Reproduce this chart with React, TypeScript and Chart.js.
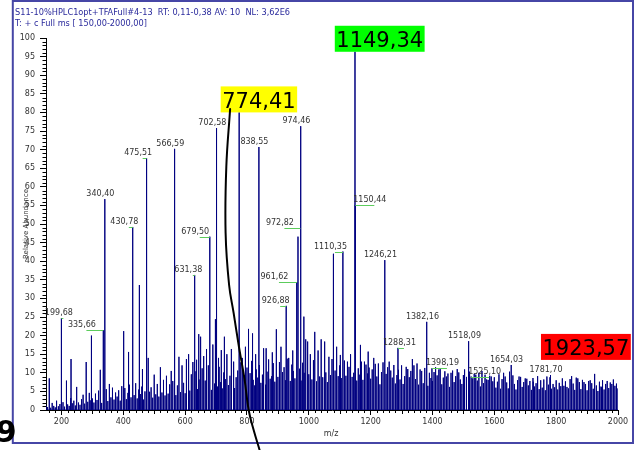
import React, { useEffect, useRef } from "react";
import { Chart, registerables } from "chart.js";

Chart.register(...registerables);

// ---------------- data ----------------
const xTickValues = [200, 400, 600, 800, 1000, 1200, 1400, 1600, 1800, 2000];
const yTickValues = [0, 5, 10, 15, 20, 25, 30, 35, 40, 45, 50, 55, 60, 65, 70, 75, 80, 85, 90, 95, 100];

const labeledMz = [199.68, 335.66, 340.4, 430.78, 475.51, 566.59, 631.38, 679.5, 702.58, 774.41, 838.55, 926.88, 961.62, 972.82, 974.46, 1110.35, 1149.34, 1150.44, 1246.21, 1288.31, 1382.16, 1398.19, 1518.09, 1525.1, 1654.03, 1781.7, 1923.57];
const labeledIntensity = [24.7, 21.5, 56.7, 49.2, 67.7, 70.2, 36.3, 46.6, 75.8, 80.0, 70.7, 28.0, 34.4, 48.9, 76.3, 42.6, 96.3, 55.1, 40.3, 16.7, 23.7, 11.2, 18.5, 9.0, 12.1, 9.4, 9.7];

const minorPeakMz = [161, 183, 217, 231, 248, 280, 297, 326, 355, 402, 417, 452, 462, 481, 500, 520, 539, 555, 580, 590, 603, 612, 625, 637, 644, 650, 660, 668, 675, 689, 698, 708, 717, 727, 735, 749, 758, 785, 795, 805, 818, 828, 852, 862, 870, 882, 895, 910, 935, 948, 965, 984, 990, 997, 1005, 1018, 1030, 1040, 1052, 1065, 1079, 1090, 1102, 1125, 1135, 1167, 1180, 1192, 1210, 1225, 1260, 1275, 1300, 1320, 1335, 1350, 1365, 1410, 1421, 1445, 1460, 1480, 1502, 1540, 1560, 1575, 1590, 1615, 1630, 1648, 1680, 1700, 1726, 1750, 1770, 1800, 1825, 1850, 1870, 1890, 1910, 1947, 1965, 1980, 1990];
const minorPeakIntensity = [8.5, 2.5, 7.9, 13.7, 6.2, 12.9, 20.0, 10.8, 7.0, 21.2, 15.6, 33.6, 11.0, 14.0, 9.5, 11.5, 9.2, 10.5, 14.3, 12.0, 13.7, 15.0, 12.9, 13.5, 20.4, 19.7, 14.5, 16.4, 12.0, 17.6, 24.4, 14.0, 16.1, 19.7, 15.0, 16.4, 13.0, 14.0, 17.0, 21.8, 20.6, 15.0, 16.6, 16.6, 13.0, 15.5, 21.7, 17.0, 14.0, 16.0, 46.6, 25.1, 19.0, 18.4, 15.0, 21.0, 16.0, 19.0, 18.4, 14.3, 42.0, 17.0, 14.8, 13.0, 15.0, 17.5, 13.0, 15.7, 14.0, 12.5, 13.0, 11.0, 12.0, 11.0, 13.7, 12.5, 10.5, 11.5, 10.9, 9.0, 10.0, 11.0, 10.9, 9.5, 10.5, 8.2, 9.0, 9.5, 10.0, 10.3, 9.0, 8.5, 7.6, 8.0, 9.0, 8.0, 6.5, 9.1, 8.5, 7.5, 8.0, 6.1, 7.8, 7.0, 6.5];

const noiseStartMz = 150;
const noiseStepMz = 5;
const noiseIntensity = [
  1.2, 0.8, 1.5, 0.6, 1.9, 1.1, 0.7, 2.4, 1.0, 1.6,
  1.3, 2.1, 0.9, 2.8, 1.5, 1.1, 3.2, 1.8, 2.5, 1.2, 3.6, 2.0, 1.4, 2.9, 4.1, 1.7, 3.3, 2.2, 4.6, 2.6,
  3.1, 2.0, 4.4, 2.7, 5.2, 3.5, 1.9, 4.8, 3.0, 5.6, 2.4, 4.1, 3.4, 6.0, 2.8, 4.7, 3.6, 5.3, 2.5, 6.4,
  3.8, 5.9, 2.9, 4.6, 6.8, 3.4, 5.1, 4.0, 7.2, 3.1, 5.5, 4.3, 6.3, 2.8, 5.0, 7.6, 3.7, 4.9, 6.1, 3.3,
  5.4, 4.2, 7.0, 3.6, 6.2, 4.7, 8.1, 3.9, 5.8, 4.4, 6.9, 3.5, 7.8, 5.1, 4.0, 6.6, 8.4, 4.8, 5.7, 7.3,
  4.5, 8.8, 6.0, 5.2, 9.6, 4.9, 7.4, 10.4, 5.6, 8.2, 6.5, 11.2, 5.0, 7.9, 9.0, 6.2, 10.8, 5.4, 8.6, 7.1,
  9.8, 6.3, 11.6, 7.5, 5.8, 10.1, 8.3, 12.4, 6.7, 9.2, 7.0, 11.0, 5.9, 8.8, 10.6, 6.9, 12.8, 7.7, 9.4, 8.0,
  11.4, 7.2, 9.9, 13.2, 8.1, 6.6, 10.9, 8.7, 12.1, 7.3, 9.5, 11.8, 6.8, 10.3, 13.6, 8.4, 9.1, 12.6, 7.6, 10.7,
  8.9, 12.9, 7.4, 10.2, 11.5, 8.0, 13.8, 9.3, 7.8, 12.2, 10.5, 8.5, 14.2, 9.7, 11.1, 7.9, 12.7, 10.0, 8.6, 13.1,
  9.6, 11.9, 8.2, 13.4, 10.8, 7.7, 12.3, 9.0, 14.0, 8.8, 11.3, 10.1, 7.5, 12.5, 9.4, 13.7, 8.3, 10.6, 11.7, 9.1,
  12.0, 8.6, 10.4, 13.3, 9.2, 7.6, 11.6, 14.4, 8.9, 10.0, 12.6, 7.9, 11.2, 9.5, 13.0, 8.1, 10.7, 12.2, 9.8, 11.4,
  8.4, 10.9, 7.3, 12.4, 9.0, 11.1, 6.9, 10.2, 12.8, 8.0, 9.7, 11.5, 7.4, 10.6, 8.7, 12.1, 7.1, 9.4, 10.8, 8.2,
  10.3, 7.0, 9.1, 11.6, 6.6, 8.8, 10.5, 7.7, 12.0, 8.3, 9.6, 6.8, 10.9, 8.1, 7.2, 11.3, 9.0, 6.5, 10.0, 8.6,
  7.8, 10.2, 6.4, 9.3, 8.0, 11.0, 6.9, 8.7, 10.4, 7.1, 9.8, 6.2, 8.4, 10.6, 7.5, 9.1, 6.7, 10.1, 8.2, 7.0,
  9.4, 6.5, 8.9, 7.3, 10.3, 6.1, 8.5, 9.7, 6.8, 7.9, 10.0, 6.3, 8.6, 7.2, 9.5, 5.9, 8.1, 9.2, 6.6, 7.7,
  8.8, 6.0, 7.6, 9.6, 5.7, 8.3, 6.9, 9.0, 7.4, 5.8, 8.7, 6.4, 9.3, 7.0, 5.5, 8.0, 6.7, 8.9, 6.2, 7.5,
  5.9, 8.4, 6.6, 7.8, 5.4, 8.6, 6.3, 7.2, 9.1, 5.6, 7.9, 6.0, 8.2, 5.3, 7.4, 6.8, 8.8, 5.7, 7.0, 6.1,
  8.0, 5.5, 7.3, 6.4, 8.5, 5.2, 7.7, 6.2, 5.8, 8.3, 6.7, 7.1, 5.4, 8.7, 6.0, 7.5, 5.6, 8.1, 6.5, 7.0,
  5.3, 7.8, 6.1, 7.2, 5.7, 8.4, 6.6, 5.1, 7.6, 6.3, 8.0, 5.5, 7.0, 6.8, 5.9, 7.4, 5.2, 8.2, 6.4, 7.1,
  5.8,
];

// hand-drawn curve (data coordinates)
const curveMz = [745.5, 733.2, 730.9, 742.2, 756.8, 774.0, 792.4, 805.4, 821.6, 841.0];
const curveValue = [80.9, 65.4, 47.6, 33.6, 26.1, 17.0, 8.1, 0, -5.4, -10.8];

const headerLine1 = "S11-10%HPLC1opt+TFAFull#4-13  RT: 0,11-0,38 AV: 10  NL: 3,62E6";
const headerLine2 = "T: + c Full ms [ 150,00-2000,00]";
const yTitle = "Relative Abundance";
const xTitle = "m/z";
const cornerMark = "9";
const calloutMz = [1149.34, 774.41, 1923.57];

// ---------------- styles / layout ----------------
const FONT = '"DejaVu Sans", Verdana, sans-serif';
const calloutStyle = [
  { bg: "#00ff00", dx: -20.2, gap: 0 },
  { bg: "#ffff00", dx: -18.4, gap: 0 },
  { bg: "#ff0000", dx: -53.4, gap: 14 },
];
const labelAnchorDx: Record<string, number> = {
  "199.68": 2, "335.66": -17, "430.78": -4, "475.51": -4, "631.38": -2, "679.50": -10,
  "926.88": -6, "961.62": -18, "972.82": -16, "1110.35": -8, "1150.44": 19, "1288.31": 6,
  "1398.19": 15, "1525.10": 18,
};

const fmt = (m: number) => m.toFixed(2).replace(".", ",");

const decorPlugin = {
  id: "decor",
  beforeDraw(chart: any) {
    const ctx = chart.ctx;
    ctx.save();
    ctx.fillStyle = "#ffffff";
    ctx.fillRect(0, 0, chart.width, chart.height);
    // frame
    ctx.strokeStyle = "#4646a6";
    ctx.lineWidth = 2;
    ctx.strokeRect(12.8, 1, chart.width - 12.8 - 11, chart.height - 1 - 7);
    // header
    ctx.fillStyle = "#2a2a9c";
    ctx.font = `8.2px ${FONT}`;
    ctx.textAlign = "left";
    ctx.textBaseline = "alphabetic";
    ctx.fillText(headerLine1, 15, 14.5);
    ctx.fillText(headerLine2, 15, 25.5);
    ctx.restore();
  },
  afterDatasetDraw(chart: any, args: any) {
    if (args.index !== 0) return;
    const ctx = chart.ctx;
    const xs = chart.scales.x;
    const ys = chart.scales.y;
    const area = chart.chartArea;
    ctx.save();
    // minor ticks
    ctx.strokeStyle = "#000";
    ctx.lineWidth = 1;
    ctx.beginPath();
    for (let v = 0; v <= 100; v++) {
      if (v % 5 === 0) continue;
      const py = Math.round(ys.getPixelForValue(v)) + 0.5;
      ctx.moveTo(area.left - 3.5, py);
      ctx.lineTo(area.left, py);
    }
    for (let v = 160; v <= 2000; v += 20) {
      if (v % 200 === 0) continue;
      const px = Math.round(xs.getPixelForValue(v)) + 0.5;
      ctx.moveTo(px, area.bottom);
      ctx.lineTo(px, area.bottom + (v % 100 === 0 ? 4 : 3));
    }
    ctx.stroke();

    // peak labels
    ctx.font = `8px ${FONT}`;
    ctx.textAlign = "center";
    ctx.textBaseline = "middle";
    labeledMz.forEach((m, i) => {
      if (calloutMz.includes(m)) return;
      const px = xs.getPixelForValue(m);
      const py = ys.getPixelForValue(labeledIntensity[i]);
      const dx = labelAnchorDx[m.toFixed(2)] ?? 0;
      const ax = px + dx;
      if (Math.abs(dx) > 1) {
        ctx.strokeStyle = "#5ccc5c";
        ctx.lineWidth = 1;
        ctx.beginPath();
        ctx.moveTo(px, Math.round(py) + 0.5);
        ctx.lineTo(ax, Math.round(py) + 0.5);
        ctx.stroke();
      }
      ctx.fillStyle = "#333333";
      ctx.fillText(fmt(m), ax - 4.5, py - 5);
    });

    // callouts
    ctx.font = `21px ${FONT}`;
    ctx.textAlign = "left";
    ctx.textBaseline = "alphabetic";
    calloutMz.forEach((m, i) => {
      const st = calloutStyle[i];
      const idx = labeledMz.indexOf(m);
      const px = xs.getPixelForValue(m);
      const py = ys.getPixelForValue(labeledIntensity[idx]);
      const text = fmt(m);
      const w = ctx.measureText(text).width + 3;
      const bottom = py - st.gap;
      const left = px + st.dx;
      ctx.fillStyle = st.bg;
      ctx.fillRect(left, bottom - 26, w, 26);
      ctx.fillStyle = "#000";
      ctx.fillText(text, left + 1.5, bottom - 4.5);
    });

    // axis titles
    ctx.fillStyle = "#333333";
    ctx.font = `7px ${FONT}`;
    ctx.textAlign = "center";
    ctx.textBaseline = "middle";
    ctx.save();
    ctx.translate(26, (area.top + area.bottom) / 2 + 0);
    ctx.rotate(-Math.PI / 2);
    ctx.fillText(yTitle, 0, 0);
    ctx.restore();
    ctx.font = `8px ${FONT}`;
    ctx.fillText(xTitle, (area.left + area.right) / 2 - 1, area.bottom + 24);

    // corner mark
    ctx.fillStyle = "#000";
    ctx.font = `bold 30px ${FONT}`;
    ctx.textAlign = "right";
    ctx.textBaseline = "alphabetic";
    ctx.fillText(cornerMark, 16.5, 442);
    ctx.restore();
  },
};

export default function App() {
  const ref = useRef<HTMLCanvasElement | null>(null);
  useEffect(() => {
    if (!ref.current) return;
    const peaks: [number, number][] = [];
    noiseIntensity.forEach((h, i) => peaks.push([noiseStartMz + i * noiseStepMz, h]));
    minorPeakMz.forEach((m, i) => peaks.push([m, minorPeakIntensity[i]]));
    labeledMz.forEach((m, i) => peaks.push([m, labeledIntensity[i]]));
    peaks.sort((a, b) => a[0] - b[0]);
    const stickData: { x: number; y: number }[] = [];
    for (const [m, h] of peaks) {
      stickData.push({ x: m, y: 0 }, { x: m, y: h }, { x: m, y: 0 });
    }
    const curveData = curveMz.map((m, i) => ({ x: m, y: curveValue[i] }));

    const tickFont = { family: FONT, size: 8 };
    const chart = new Chart(ref.current, {
      type: "line",
      data: {
        datasets: [
          {
            data: stickData,
            borderColor: "#000080",
            borderWidth: 1,
            pointRadius: 0,
            tension: 0,
            order: 1,
          },
          {
            data: curveData,
            borderColor: "#000000",
            borderWidth: 2,
            pointRadius: 0,
            tension: 0.4,
            clip: false as any,
            borderCapStyle: "round",
            order: 0,
          },
        ],
      },
      options: {
        animation: false,
        responsive: false,
        events: [],
        layout: { padding: { left: 0, top: 38, right: 26, bottom: 0 } },
        plugins: { legend: { display: false }, tooltip: { enabled: false } },
        scales: {
          x: {
            type: "linear",
            min: 150,
            max: 2000,
            afterBuildTicks: (s: any) => {
              s.ticks = xTickValues.map((v) => ({ value: v }));
            },
            afterFit: (s: any) => {
              s.height = 40;
            },
            ticks: {
              font: tickFont,
              color: "#333333",
              padding: 2,
              maxRotation: 0,
              autoSkip: false,
              callback: (v: any) => String(v),
            },
            grid: { drawOnChartArea: false, drawTicks: true, tickLength: 5, tickColor: "#000" },
            border: { display: true, color: "#000" },
          },
          y: {
            type: "linear",
            min: 0,
            max: 100,
            afterBuildTicks: (s: any) => {
              s.ticks = yTickValues.map((v) => ({ value: v }));
            },
            afterFit: (s: any) => {
              s.width = 46;
            },
            ticks: {
              font: tickFont,
              color: "#333333",
              padding: 5,
              autoSkip: false,
              callback: (v: any) => String(v),
            },
            grid: { drawOnChartArea: false, drawTicks: true, tickLength: 6, tickColor: "#000" },
            border: { display: true, color: "#000" },
          },
        },
      },
      plugins: [decorPlugin],
    } as any);
    return () => chart.destroy();
  }, []);

  return (
    <div style={{ position: "absolute", left: 0, top: 0, width: 644, height: 450 }}>
      <canvas ref={ref} width={644} height={450} style={{ display: "block" }} />
    </div>
  );
}
